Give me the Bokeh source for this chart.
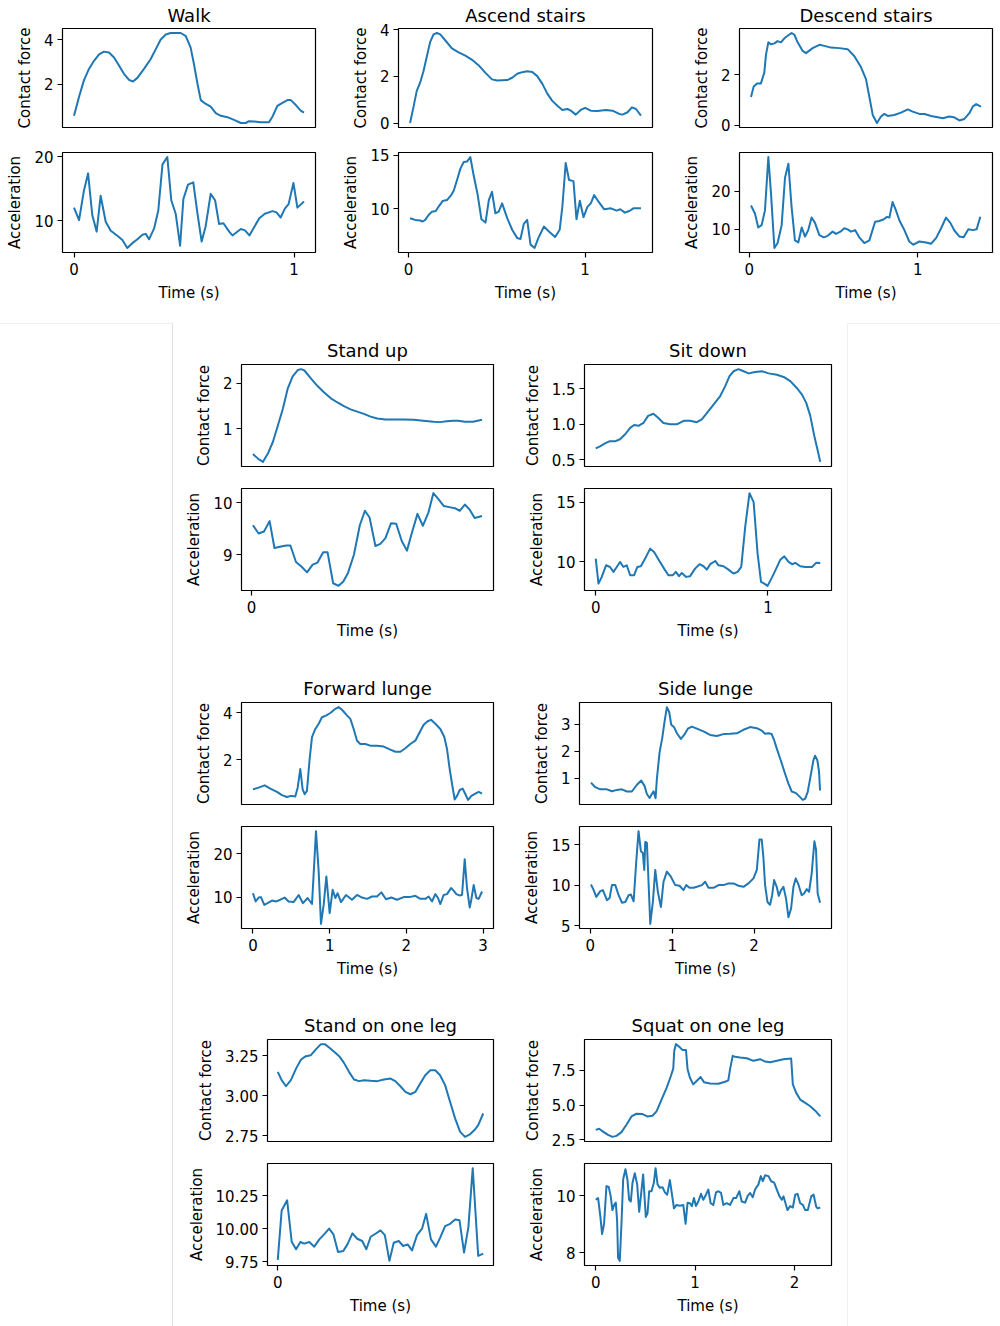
from bokeh.plotting import figure
from bokeh.layouts import row, column
from bokeh.models import Range1d, FixedTicker, CustomJSTickFormatter, Title, Spacer, Div
from bokeh.embed import file_html
from bokeh.resources import INLINE

FONT = "DejaVu Sans"
BLUE = "#1f77b4"

# ---------------- data (time in s) ----------------
walk_t_cf = [0, .023, .045, .068, .091, .114, .136, .159, .182, .205, .227, .25, .268, .288, .318, .348, .371, .394, .417, .439, .485, .508, .530, .545, .561, .576, .591, .621, .644, .667, .697, .727, .758, .780, .795, .818, .848, .886, .902, .924, .947, .970, .985, 1.008, 1.03, 1.045]
walk_cf = [0.60, 1.45, 2.18, 2.69, 3.05, 3.34, 3.46, 3.42, 3.20, 2.83, 2.47, 2.20, 2.13, 2.29, 2.69, 3.12, 3.56, 4.0, 4.22, 4.29, 4.29, 4.15, 3.64, 2.91, 2.03, 1.30, 1.18, 1.01, 0.72, 0.60, 0.54, 0.42, 0.28, 0.28, 0.36, 0.35, 0.31, 0.31, 0.57, 1.04, 1.18, 1.30, 1.30, 1.08, 0.83, 0.74]
walk_t_acc = [0, .023, .045, .064, .083, .103, .121, .144, .167, .197, .220, .242, .265, .288, .311, .326, .341, .364, .383, .402, .424, .442, .462, .482, .497, .518, .542, .561, .580, .598, .621, .641, .659, .679, .705, .720, .758, .777, .797, .815, .842, .867, .902, .92, .939, .958, .975, .997, 1.015, 1.045]
walk_acc = [12.05, 10.1, 14.7, 17.4, 10.9, 8.3, 13.9, 9.85, 8.45, 7.65, 7.0, 5.75, 6.5, 7.1, 7.8, 7.95, 7.1, 8.8, 11.6, 18.8, 19.95, 13.2, 11.1, 6.1, 13.4, 15.65, 16.0, 11.1, 6.75, 9.1, 14.2, 13.2, 9.5, 9.6, 8.3, 7.7, 8.7, 8.5, 7.7, 8.8, 10.4, 11.1, 11.5, 11.3, 10.5, 11.9, 12.6, 15.9, 12.05, 13.0]

ascend_t_cf = [.009, .028, .047, .066, .085, .104, .123, .142, .161, .180, .208, .246, .284, .322, .360, .398, .436, .473, .502, .559, .587, .616, .644, .672, .701, .729, .758, .786, .814, .843, .871, .9, .919, .947, .975, 1.0, 1.032, 1.07, 1.117, 1.155, 1.193, 1.212, 1.24, 1.265, 1.288, 1.316]
ascend_cf = [0.0, 0.67, 1.38, 1.73, 2.22, 2.85, 3.48, 3.80, 3.86, 3.80, 3.55, 3.20, 3.03, 2.89, 2.71, 2.47, 2.15, 1.87, 1.82, 1.84, 1.94, 2.11, 2.18, 2.22, 2.19, 2.01, 1.68, 1.26, 0.95, 0.74, 0.56, 0.60, 0.53, 0.36, 0.56, 0.65, 0.53, 0.51, 0.56, 0.53, 0.39, 0.36, 0.46, 0.67, 0.60, 0.32]
ascend_t_acc = [.009, .038, .066, .080, .095, .114, .133, .155, .170, .193, .218, .242, .256, .275, .294, .313, .333, .35, .369, .392, .413, .436, .455, .473, .492, .511, .530, .559, .587, .616, .634, .653, .672, .691, .714, .735, .767, .795, .83, .856, .871, .890, .909, .934, .951, .970, .991, 1.013, 1.032, 1.051, 1.076, 1.108, 1.146, 1.178, 1.199, 1.225, 1.25, 1.273, 1.316]
ascend_acc = [9.14, 8.98, 8.92, 8.83, 8.98, 9.44, 9.75, 9.81, 10.2, 10.74, 10.83, 11.3, 11.7, 12.7, 13.77, 14.38, 14.44, 14.85, 13.15, 11.3, 9.04, 8.73, 10.83, 11.6, 9.6, 9.75, 10.52, 9.14, 8.06, 7.28, 7.19, 8.61, 8.98, 6.67, 6.36, 7.28, 8.36, 7.9, 7.38, 8.06, 10.2, 14.29, 12.7, 12.6, 9.04, 10.77, 9.23, 10.2, 10.52, 11.3, 10.68, 9.97, 10.06, 9.85, 9.97, 9.66, 9.81, 10.06, 10.06]

descend_t_cf = [.01, .026, .046, .069, .089, .099, .113, .129, .149, .168, .188, .208, .232, .251, .267, .287, .317, .337, .376, .416, .446, .485, .535, .584, .624, .663, .693, .713, .733, .758, .782, .802, .822, .861, .901, .941, .97, 1.01, 1.04, 1.08, 1.119, 1.149, 1.188, 1.214, 1.248, 1.277, 1.307, 1.327, 1.347, 1.376]
descend_cf = [1.12, 1.54, 1.66, 1.66, 2.09, 2.8, 3.29, 3.21, 3.25, 3.34, 3.29, 3.45, 3.57, 3.66, 3.6, 3.29, 2.95, 2.86, 3.06, 3.19, 3.15, 3.08, 3.06, 3.02, 2.74, 2.31, 1.83, 1.12, 0.41, 0.09, 0.35, 0.45, 0.37, 0.41, 0.5, 0.63, 0.54, 0.45, 0.45, 0.37, 0.32, 0.28, 0.35, 0.32, 0.19, 0.25, 0.48, 0.74, 0.84, 0.74]
descend_t_acc = [.01, .034, .053, .073, .093, .113, .129, .149, .168, .192, .212, .232, .251, .271, .291, .311, .331, .35, .37, .39, .416, .442, .465, .495, .515, .541, .564, .584, .604, .628, .653, .683, .713, .747, .772, .796, .818, .832, .851, .871, .891, .921, .95, .974, 1.01, 1.05, 1.079, 1.109, 1.139, 1.168, 1.194, 1.218, 1.248, 1.273, 1.301, 1.327, 1.35, 1.372]
descend_acc = [16.3, 14.1, 10.5, 11.1, 15.0, 29.05, 19.3, 5.1, 6.4, 11.1, 23.6, 27.3, 15.9, 7.1, 6.55, 10.5, 8.1, 9.8, 13.1, 11.7, 8.5, 7.9, 8.3, 9.4, 8.8, 9.4, 10.3, 10.0, 9.4, 9.8, 7.9, 6.4, 7.1, 12.0, 12.2, 12.6, 13.3, 13.1, 17.2, 15.0, 12.4, 9.8, 6.8, 5.95, 6.8, 6.55, 6.2, 7.7, 10.3, 13.1, 11.7, 9.7, 8.1, 7.9, 10.0, 9.8, 10.0, 13.3]

standup_t_cf = [.006, .028, .045, .065, .084, .103, .123, .142, .161, .181, .194, .207, .232, .258, .284, .310, .336, .361, .387, .413, .439, .465, .491, .523, .555, .594, .633, .671, .710, .736, .762, .788, .807, .833, .865, .900]
standup_cf = [0.45, 0.34, 0.28, 0.47, 0.72, 1.07, 1.45, 1.89, 2.15, 2.29, 2.31, 2.28, 2.11, 1.94, 1.80, 1.67, 1.58, 1.50, 1.43, 1.38, 1.33, 1.27, 1.23, 1.21, 1.21, 1.21, 1.20, 1.18, 1.16, 1.15, 1.17, 1.18, 1.18, 1.16, 1.16, 1.20]
standup_t_acc = [.006, .028, .049, .071, .090, .116, .136, .152, .174, .196, .217, .239, .258, .280, .297, .319, .340, .358, .377, .400, .423, .443, .461, .484, .503, .523, .545, .565, .587, .607, .626, .648, .669, .691, .710, .729, .751, .772, .794, .813, .833, .852, .871, .900]
standup_acc = [9.57, 9.41, 9.45, 9.65, 9.13, 9.16, 9.18, 9.18, 8.86, 8.77, 8.66, 8.81, 8.85, 9.05, 9.05, 8.45, 8.40, 8.48, 8.65, 9.0, 9.57, 9.85, 9.72, 9.17, 9.21, 9.32, 9.61, 9.60, 9.26, 9.08, 9.42, 9.79, 9.56, 9.82, 10.19, 10.08, 9.94, 9.92, 9.90, 9.85, 9.97, 9.87, 9.71, 9.75]

sitdown_t_cf = [0, .025, .054, .079, .112, .141, .171, .2, .223, .248, .277, .304, .335, .364, .393, .432, .471, .510, .548, .587, .616, .645, .684, .723, .752, .777, .8, .829, .859, .888, .926, .965, 1.004, 1.052, 1.091, 1.130, 1.169, 1.198, 1.223, 1.246, 1.269, 1.289, 1.304]
sitdown_cf = [0.66, 0.69, 0.73, 0.76, 0.76, 0.79, 0.86, 0.95, 0.99, 0.98, 1.02, 1.12, 1.15, 1.09, 1.02, 1.0, 1.0, 1.05, 1.05, 1.03, 1.07, 1.16, 1.28, 1.40, 1.54, 1.68, 1.75, 1.78, 1.75, 1.72, 1.74, 1.75, 1.72, 1.70, 1.67, 1.61, 1.51, 1.42, 1.30, 1.12, 0.84, 0.63, 0.47]
sitdown_t_acc = [0, .016, .035, .06, .083, .103, .122, .141, .161, .180, .2, .223, .242, .262, .287, .316, .339, .370, .397, .422, .448, .465, .484, .5, .525, .548, .577, .603, .626, .645, .665, .694, .713, .742, .771, .8, .824, .845, .868, .893, .917, .94, .96, .979, .998, 1.023, 1.048, 1.072, 1.095, 1.12, 1.14, 1.159, 1.188, 1.217, 1.256, 1.281, 1.304]
sitdown_acc = [10.28, 8.19, 8.75, 9.72, 9.58, 9.17, 9.58, 10.0, 9.58, 9.72, 8.89, 8.89, 9.58, 9.64, 10.28, 11.11, 10.83, 10.08, 9.44, 8.89, 8.89, 9.17, 8.81, 9.08, 8.75, 8.81, 9.44, 9.81, 9.64, 9.36, 9.81, 10.08, 9.72, 9.64, 9.36, 9.03, 9.17, 9.58, 12.92, 15.75, 15.0, 10.69, 8.33, 8.19, 8.0, 8.69, 9.44, 10.19, 10.47, 10.0, 9.81, 9.92, 9.64, 9.58, 9.58, 9.94, 9.92]

fwd_t_cf = [0, .074, .152, .226, .313, .378, .443, .496, .552, .583, .617, .648, .674, .704, .739, .770, .813, .857, .9, .957, 1.009, 1.074, 1.117, 1.161, 1.226, 1.27, 1.313, 1.357, 1.4, 1.465, 1.53, 1.617, 1.704, 1.791, 1.857, 1.922, 1.987, 2.052, 2.117, 2.174, 2.226, 2.278, 2.322, 2.378, 2.443, 2.496, 2.53, 2.565, 2.6, 2.63, 2.661, 2.696, 2.735, 2.77, 2.804, 2.848, 2.9, 2.943, 2.987]
fwd_cf = [0.74, 0.81, 0.91, 0.77, 0.63, 0.49, 0.41, 0.46, 0.43, 0.81, 1.6, 0.74, 0.53, 0.67, 2.03, 2.96, 3.31, 3.53, 3.81, 3.89, 3.99, 4.17, 4.24, 4.13, 3.89, 3.74, 3.31, 2.81, 2.67, 2.67, 2.6, 2.6, 2.56, 2.43, 2.34, 2.34, 2.49, 2.67, 2.81, 3.17, 3.49, 3.64, 3.7, 3.53, 3.31, 2.96, 2.46, 1.6, 0.89, 0.31, 0.46, 0.71, 0.77, 0.53, 0.29, 0.46, 0.56, 0.63, 0.56]
fwd_t_acc = [0, .035, .074, .104, .148, .191, .248, .304, .357, .413, .465, .530, .596, .652, .713, .770, .822, .857, .887, .922, .957, 1.0, 1.039, 1.074, 1.104, 1.148, 1.213, 1.291, 1.357, 1.422, 1.487, 1.552, 1.617, 1.674, 1.735, 1.804, 1.878, 1.965, 2.043, 2.117, 2.183, 2.248, 2.291, 2.335, 2.378, 2.413, 2.443, 2.487, 2.53, 2.583, 2.617, 2.652, 2.691, 2.726, 2.761, 2.791, 2.826, 2.848, 2.878, 2.913, 2.943, 2.987]
fwd_acc = [10.9, 9.0, 9.9, 10.0, 8.2, 8.6, 9.2, 9.0, 9.4, 9.9, 9.0, 8.85, 10.5, 8.6, 9.8, 8.4, 25.3, 15.9, 3.8, 8.2, 14.8, 6.3, 11.7, 9.8, 10.9, 8.85, 10.5, 9.4, 10.5, 9.9, 9.6, 10.15, 10.15, 11.1, 9.5, 9.9, 9.4, 10.0, 10.0, 10.3, 9.6, 9.6, 10.15, 9.0, 10.7, 9.8, 8.4, 10.5, 10.7, 12.1, 11.5, 10.7, 10.4, 10.5, 18.8, 12.1, 7.6, 9.5, 12.8, 9.8, 9.6, 11.3]

side_t_cf = [.008, .061, .122, .203, .264, .325, .386, .447, .508, .569, .622, .663, .691, .724, .752, .772, .797, .813, .846, .878, .907, .935, .963, .988, 1.024, 1.057, 1.106, 1.146, 1.191, 1.24, 1.301, 1.382, 1.463, 1.545, 1.626, 1.707, 1.789, 1.870, 1.951, 2.033, 2.093, 2.134, 2.175, 2.215, 2.244, 2.276, 2.325, 2.378, 2.419, 2.459, 2.512, 2.561, 2.593, 2.622, 2.654, 2.691, 2.724, 2.744, 2.772, 2.793, 2.805]
side_cf = [0.83, 0.66, 0.58, 0.58, 0.51, 0.56, 0.58, 0.5, 0.5, 0.75, 0.91, 0.7, 0.41, 0.26, 0.41, 0.51, 0.25, 0.98, 1.95, 2.48, 3.1, 3.63, 3.45, 2.98, 2.88, 2.66, 2.45, 2.6, 2.83, 2.91, 2.83, 2.73, 2.6, 2.56, 2.63, 2.64, 2.66, 2.79, 2.89, 2.85, 2.76, 2.64, 2.66, 2.63, 2.41, 2.1, 1.66, 1.16, 0.79, 0.5, 0.44, 0.29, 0.19, 0.23, 0.48, 1.1, 1.66, 1.83, 1.66, 1.23, 0.54]
side_t_acc = [.008, .041, .073, .122, .154, .203, .236, .264, .305, .346, .386, .427, .468, .496, .529, .561, .589, .618, .642, .659, .671, .691, .711, .732, .764, .793, .825, .862, .894, .935, .984, 1.037, 1.089, 1.138, 1.171, 1.211, 1.260, 1.301, 1.362, 1.402, 1.443, 1.504, 1.565, 1.626, 1.687, 1.748, 1.809, 1.870, 1.931, 1.992, 2.033, 2.065, 2.093, 2.114, 2.134, 2.163, 2.195, 2.22, 2.244, 2.276, 2.301, 2.329, 2.358, 2.390, 2.419, 2.451, 2.48, 2.508, 2.541, 2.581, 2.61, 2.642, 2.671, 2.703, 2.736, 2.756, 2.776, 2.805]
side_acc = [10.08, 9.38, 8.54, 9.25, 9.38, 8.13, 8.42, 10.0, 10.0, 8.75, 7.83, 7.92, 8.75, 8.83, 8.0, 12.92, 16.67, 14.17, 13.96, 11.88, 15.33, 15.21, 10.42, 5.21, 7.92, 11.88, 9.17, 7.29, 10.42, 11.67, 11.04, 10.0, 9.92, 9.38, 10.0, 9.67, 9.67, 9.79, 10.0, 10.42, 9.67, 9.67, 10.0, 10.0, 10.21, 10.21, 9.92, 9.79, 10.21, 10.83, 11.88, 15.63, 15.63, 13.33, 10.0, 7.92, 7.58, 8.75, 10.63, 9.79, 8.67, 9.38, 9.79, 8.33, 6.04, 7.08, 9.79, 10.83, 10.08, 8.75, 8.96, 9.5, 9.17, 11.46, 15.42, 14.38, 8.96, 7.83]

oneleg_t_cf = [0, .017, .036, .058, .080, .102, .123, .145, .167, .189, .206, .225, .247, .269, .290, .312, .334, .356, .378, .407, .436, .465, .494, .515, .537, .559, .581, .603, .624, .646, .668, .690, .711, .733, .755, .777, .799, .820, .842, .864, .878, .900]
oneleg_cf = [3.15, 3.098, 3.06, 3.10, 3.17, 3.227, 3.248, 3.254, 3.29, 3.323, 3.323, 3.302, 3.275, 3.248, 3.206, 3.15, 3.102, 3.092, 3.098, 3.094, 3.092, 3.102, 3.108, 3.092, 3.06, 3.025, 3.01, 3.025, 3.077, 3.129, 3.16, 3.16, 3.129, 3.067, 2.962, 2.858, 2.775, 2.744, 2.76, 2.79, 2.817, 2.89]
oneleg_t_acc = [0, .017, .041, .061, .080, .099, .116, .138, .160, .182, .203, .225, .244, .264, .287, .305, .327, .348, .370, .388, .407, .428, .450, .469, .489, .508, .530, .549, .569, .588, .610, .632, .650, .671, .693, .711, .733, .755, .777, .796, .816, .835, .854, .878, .900]
oneleg_acc = [9.763, 10.137, 10.215, 9.90, 9.843, 9.898, 9.886, 9.898, 9.863, 9.918, 9.956, 10.0, 9.956, 9.823, 9.83, 9.88, 9.964, 9.923, 9.906, 9.843, 9.938, 9.961, 9.986, 9.95, 9.755, 9.893, 9.906, 9.868, 9.88, 9.835, 9.95, 9.999, 10.112, 9.918, 9.863, 9.93, 10.019, 10.036, 10.069, 10.064, 9.818, 10.011, 10.459, 9.793, 9.81]

squat_t_cf = [0, .034, .074, .124, .168, .208, .259, .309, .360, .410, .471, .518, .571, .612, .662, .713, .756, .780, .790, .807, .840, .874, .908, .924, .948, .981, 1.015, 1.055, 1.089, 1.150, 1.234, 1.301, 1.334, 1.351, 1.378, 1.402, 1.452, 1.519, 1.587, 1.654, 1.704, 1.755, 1.822, 1.889, 1.966, 1.983, 2.017, 2.057, 2.108, 2.158, 2.208, 2.259]
squat_cf = [3.22, 3.30, 3.10, 2.86, 2.72, 2.79, 3.06, 3.59, 4.19, 4.38, 4.36, 4.19, 4.24, 4.55, 5.4, 6.24, 7.09, 7.62, 8.9, 9.38, 9.19, 8.95, 8.95, 7.57, 6.97, 6.49, 6.73, 7.02, 6.65, 6.56, 6.53, 6.68, 6.78, 7.57, 8.54, 8.47, 8.42, 8.37, 8.18, 8.30, 8.13, 8.08, 8.18, 8.30, 8.35, 6.49, 5.88, 5.4, 5.16, 4.92, 4.60, 4.19]
squat_t_acc = [0, .024, .047, .064, .084, .108, .131, .151, .168, .185,
               .202, .215, .225, .242, .259, .276, .299, .319, .336, .353,
               .370, .393, .417, .437, .454, .477, .494, .504, .521, .538,
               .561, .585, .602, .622, .645, .672, .696, .719, .746, .770,
               .787, .813, .847, .881, .904, .924, .948, .968, .988, 1.008,
               1.032, 1.059, 1.082, 1.109, 1.133, 1.156, 1.183, 1.210, 1.234, 1.261,
               1.284, 1.318, 1.351, 1.385, 1.412, 1.445, 1.469, 1.503, 1.529, 1.553,
               1.580, 1.603, 1.637, 1.661, 1.681, 1.704, 1.738, 1.765, 1.795, 1.822,
               1.849, 1.872, 1.889, 1.909, 1.929, 1.956, 1.983, 2.007, 2.03, 2.057,
               2.084, 2.108, 2.134, 2.168, 2.192, 2.218, 2.232, 2.259]
squat_acc = [9.86, 9.92, 9.26, 8.66, 9.02, 10.34, 10.31, 9.98, 9.5, 9.68,
             9.76, 9.14, 7.82, 7.72, 9.02, 10.57, 10.93, 10.57, 9.86, 9.8,
             10.46, 10.79, 10.40, 9.44, 9.98, 10.75, 9.8, 9.26, 9.38, 10.16,
             10.16, 10.46, 10.97, 10.40, 10.28, 10.30, 10.12, 10.04, 10.55, 9.98,
             9.56, 9.68, 9.65, 9.68, 9.02, 9.76, 9.74, 9.64, 9.92, 9.64,
             9.8, 10.07, 9.86, 10.04, 10.22, 9.74, 9.68, 10.12, 10.16, 10.1,
             9.68, 9.74, 9.68, 9.92, 9.92, 10.16, 9.80, 9.76, 10.0, 10.10,
             9.95, 10.22, 10.40, 10.69, 10.51, 10.72, 10.69, 10.51, 10.46, 10.22,
             9.98, 9.86, 9.98, 9.74, 9.5, 9.64, 9.59, 10.04, 10.07, 9.74,
             9.68, 9.5, 9.5, 9.98, 10.04, 9.62, 9.56, 9.59]

# ticks and tick labels
x_ticks = [0, 1, 2, 3]
x_tick_labels = ["0", "1", "2", "3"]
walk_cf_ticks, walk_cf_labels = [2, 4], ["2", "4"]
walk_acc_ticks, walk_acc_labels = [10, 20], ["10", "20"]
ascend_cf_ticks, ascend_cf_labels = [0, 2, 4], ["0", "2", "4"]
ascend_acc_ticks, ascend_acc_labels = [10, 15], ["10", "15"]
descend_cf_ticks, descend_cf_labels = [0, 2], ["0", "2"]
descend_acc_ticks, descend_acc_labels = [10, 20], ["10", "20"]
standup_cf_ticks, standup_cf_labels = [1, 2], ["1", "2"]
standup_acc_ticks, standup_acc_labels = [9, 10], ["9", "10"]
sitdown_cf_ticks, sitdown_cf_labels = [0.5, 1.0, 1.5], ["0.5", "1.0", "1.5"]
sitdown_acc_ticks, sitdown_acc_labels = [10, 15], ["10", "15"]
fwd_cf_ticks, fwd_cf_labels = [2, 4], ["2", "4"]
fwd_acc_ticks, fwd_acc_labels = [10, 20], ["10", "20"]
side_cf_ticks, side_cf_labels = [1, 2, 3], ["1", "2", "3"]
side_acc_ticks, side_acc_labels = [5, 10, 15], ["5", "10", "15"]
oneleg_cf_ticks, oneleg_cf_labels = [2.75, 3.0, 3.25], ["2.75", "3.00", "3.25"]
oneleg_acc_ticks, oneleg_acc_labels = [9.75, 10.0, 10.25], ["9.75", "10.00", "10.25"]
squat_cf_ticks, squat_cf_labels = [2.5, 5.0, 7.5], ["2.5", "5.0", "7.5"]
squat_acc_ticks, squat_acc_labels = [8, 10], ["8", "10"]


# ---------------- helpers ----------------
def padded(*arrs):
    lo = min(min(a) for a in arrs)
    hi = max(max(a) for a in arrs)
    s = hi - lo
    return lo - 0.05 * s, hi + 0.05 * s


def fmt(ticks, labels):
    return CustomJSTickFormatter(args=dict(tv=list(ticks), tl=list(labels)), code="""
        for (let i = 0; i < tv.length; i++) {
            if (Math.abs(tv[i] - tick) < 1e-9) { return tl[i]; }
        }
        return String(tick);
    """)


def style_axis(ax, ticks, labels, label, tick_standoff, label_standoff):
    ax.ticker = FixedTicker(ticks=list(ticks))
    ax.formatter = fmt(ticks, labels)
    ax.axis_label = label
    ax.axis_label_text_font = FONT
    ax.axis_label_text_font_size = "15px"
    ax.axis_label_text_font_style = "normal"
    ax.axis_label_text_color = "black"
    ax.axis_label_standoff = label_standoff
    ax.major_label_text_font = FONT
    ax.major_label_text_font_size = "15px"
    ax.major_label_text_color = "black"
    ax.major_label_standoff = tick_standoff
    ax.major_tick_out = 5
    ax.major_tick_in = 0
    ax.minor_tick_out = 0
    ax.minor_tick_in = 0
    ax.major_tick_line_color = "black"
    ax.major_tick_line_width = 1.2
    ax.axis_line_color = None


def base_fig(fw, fh, xr, yr, left, right, top, bottom, with_x):
    kw = dict(frame_width=fw, frame_height=fh, x_range=xr, y_range=yr,
              toolbar_location=None, output_backend="svg",
              min_border_left=left, min_border_right=right,
              min_border_top=top, min_border_bottom=bottom)
    if not with_x:
        kw["x_axis_location"] = None
    p = figure(**kw)
    p.grid.visible = False
    p.outline_line_color = "black"
    p.outline_line_width = 1.2
    p.background_fill_color = "white"
    p.border_fill_color = "white"
    return p


def panel(title, t_cf, cf, t_acc, acc, cf_ticks, cf_labels, acc_ticks, acc_labels,
          left, fw, right, top, fh1, gap1, gap2, fh2, bottom, title_standoff):
    x0, x1 = padded(t_cf, t_acc)
    xr = Range1d(x0, x1)
    c0, c1 = padded(cf)
    a0, a1 = padded(acc)

    p1 = base_fig(fw, fh1, xr, Range1d(c0, c1), left, right, top, gap1, False)
    p1.title = Title(text=title, align="center", text_font=FONT, text_font_size="18px",
                     text_font_style="normal", text_color="black", standoff=title_standoff)
    style_axis(p1.yaxis[0], cf_ticks, cf_labels, "Contact force", 4, 7)
    n = min(len(t_cf), len(cf))
    p1.line(t_cf[:n], cf[:n], line_color=BLUE, line_width=2, line_join="round")

    p2 = base_fig(fw, fh2, xr, Range1d(a0, a1), left, right, gap2, bottom, True)
    style_axis(p2.yaxis[0], acc_ticks, acc_labels, "Acceleration", 4, 7)
    style_axis(p2.xaxis[0], x_ticks, x_tick_labels, "Time (s)", 5, 6)
    n = min(len(t_acc), len(acc))
    p2.line(t_acc[:n], acc[:n], line_color=BLUE, line_width=2, line_join="round")
    return column(p1, p2)


def hline(w, color):
    return Div(text="", width=w, height=1, margin=0, styles={"background-color": color})


def vline(h, color):
    return Div(text="", width=1, height=h, margin=0, styles={"background-color": color})


# ---------------- top row ----------------
TOP = dict(top=28, fh1=99, gap1=12, gap2=13, fh2=100, bottom=60, title_standoff=5)
top_row = row(
    panel("Walk", walk_t_cf, walk_cf, walk_t_acc, walk_acc,
          walk_cf_ticks, walk_cf_labels, walk_acc_ticks, walk_acc_labels,
          left=62, fw=253, right=23, **TOP),
    panel("Ascend stairs", ascend_t_cf, ascend_cf, ascend_t_acc, ascend_acc,
          ascend_cf_ticks, ascend_cf_labels, ascend_acc_ticks, ascend_acc_labels,
          left=60, fw=254, right=27, **TOP),
    panel("Descend stairs", descend_t_cf, descend_cf, descend_t_acc, descend_acc,
          descend_cf_ticks, descend_cf_labels, descend_acc_ticks, descend_acc_labels,
          left=60, fw=253, right=2, **TOP),
)

# ---------------- lower grid ----------------
LOW = dict(top=30, fh1=102, gap1=11, gap2=11, fh2=102, bottom=60, title_standoff=7)
left_col = column(
    Spacer(width=1, height=11),
    panel("Stand up", standup_t_cf, standup_cf, standup_t_acc, standup_acc,
          standup_cf_ticks, standup_cf_labels, standup_acc_ticks, standup_acc_labels,
          left=61, fw=252, right=27, **LOW),
    Spacer(width=1, height=22),
    panel("Forward lunge", fwd_t_cf, fwd_cf, fwd_t_acc, fwd_acc,
          fwd_cf_ticks, fwd_cf_labels, fwd_acc_ticks, fwd_acc_labels,
          left=61, fw=252, right=27, **LOW),
    Spacer(width=1, height=21),
    panel("Stand on one leg", oneleg_t_cf, oneleg_cf, oneleg_t_acc, oneleg_acc,
          oneleg_cf_ticks, oneleg_cf_labels, oneleg_acc_ticks, oneleg_acc_labels,
          left=87, fw=226, right=27, **LOW),
)
right_col = column(
    Spacer(width=1, height=11),
    panel("Sit down", sitdown_t_cf, sitdown_cf, sitdown_t_acc, sitdown_acc,
          sitdown_cf_ticks, sitdown_cf_labels, sitdown_acc_ticks, sitdown_acc_labels,
          left=64, fw=247, right=16, **LOW),
    Spacer(width=1, height=22),
    panel("Side lunge", side_t_cf, side_cf, side_t_acc, side_acc,
          side_cf_ticks, side_cf_labels, side_acc_ticks, side_acc_labels,
          left=59, fw=252, right=16, **LOW),
    Spacer(width=1, height=21),
    panel("Squat on one leg", squat_t_cf, squat_cf, squat_t_acc, squat_acc,
          squat_cf_ticks, squat_cf_labels, squat_acc_ticks, squat_acc_labels,
          left=64, fw=247, right=16, **LOW),
)

lower = row(
    hline(172, "#efefef"),
    vline(1003, "#e2e2e2"),
    Spacer(width=7, height=1),
    left_col,
    right_col,
    vline(1003, "#f0f0f0"),
    hline(152, "#efefef"),
)

page = column(top_row, Spacer(width=1, height=11), lower)

open("out.html", "w").write(file_html(page, INLINE))
